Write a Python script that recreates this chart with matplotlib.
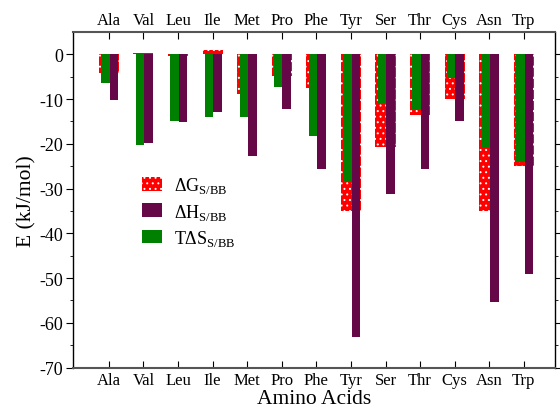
import numpy as np
import matplotlib
matplotlib.use('Agg')
import matplotlib.pyplot as plt

plt.rcParams['font.family'] = ['Liberation Serif', 'DejaVu Serif']
plt.rcParams['mathtext.fontset'] = 'custom'
plt.rcParams['mathtext.rm'] = 'Liberation Serif'
plt.rcParams['axes.unicode_minus'] = False
plt.rcParams['hatch.color'] = 'white'
plt.rcParams['hatch.linewidth'] = 0.7

#Data
amino = ['Ala', 'Val', 'Leu', 'Ile', 'Met', 'Pro', 'Phe', 'Tyr', 'Ser', 'Thr', 'Cys', 'Asn', 'Trp']
dG = [-4.1, 0.3, -0.3, 1.0, -8.9, -4.8, -7.5, -35.1, -20.7, -13.5, -9.9, -35.1, -25.0]
dH = [-10.3, -19.9, -15.2, -12.9, -22.8, -12.1, -25.7, -63.2, -31.2, -25.7, -15.0, -55.4, -49.1]
TdS = [-6.3, -20.2, -15.0, -14.0, -14.0, -7.4, -18.3, -28.2, -10.8, -12.3, -5.2, -20.7, -24.1]

x = np.arange(1, len(amino) + 1)

fig = plt.figure(figsize=(5.6, 4.1), dpi=100)
ax = fig.add_axes([0.1295, 0.101, 0.8615, 0.8185])

#Red (dG) wide bar at the back, then green, then purple on top
ax.bar(x, dG, width=0.58, color='#ff0000', edgecolor='white', linewidth=0,
       hatch='...', label=r'ΔG$_{\mathrm{S/BB}}$', zorder=2)
ax.bar(x + 0.145, dH, width=0.25, color='#660748', linewidth=0,
       label=r'ΔH$_{\mathrm{S/BB}}$', zorder=4)
ax.bar(x - 0.10, TdS, width=0.24, color='#008000', linewidth=0,
       label=r'TΔS$_{\mathrm{S/BB}}$', zorder=3)

ax.set_xlim(-0.05, 13.9)
ax.set_ylim(-70, 5)
ax.set_xticks(x)
ax.set_xticklabels(amino)
ax.set_yticks(np.arange(-70, 1, 10))
ax.set_yticks(np.arange(-70, 5, 5), minor=True)
ax.tick_params(axis='y', which='major', direction='out', length=5, labelsize=13,
               left=True, right=True, labelright=False, pad=2)
ax.tick_params(axis='y', which='minor', direction='out', length=2.5, left=True, right=True)
ax.tick_params(axis='x', direction='in', length=5, top=True, labeltop=True, labelsize=12, pad=3)

for s in ['top', 'bottom']:
    ax.spines[s].set_color('#555555')
    ax.spines[s].set_linewidth(1.5)
for s in ['left', 'right']:
    ax.spines[s].set_linewidth(1.0)

ax.set_ylabel('E (kJ/mol)', fontsize=15.5, labelpad=2)
ax.set_xlabel('Amino Acids', fontsize=15.5, labelpad=1)

ax.legend(loc='center left', bbox_to_anchor=(0.11, 0.465), frameon=False,
          fontsize=13, handlelength=1.1, handleheight=0.8, handletextpad=0.7,
          labelspacing=0.35)

fig.savefig('out.png', dpi=100)
